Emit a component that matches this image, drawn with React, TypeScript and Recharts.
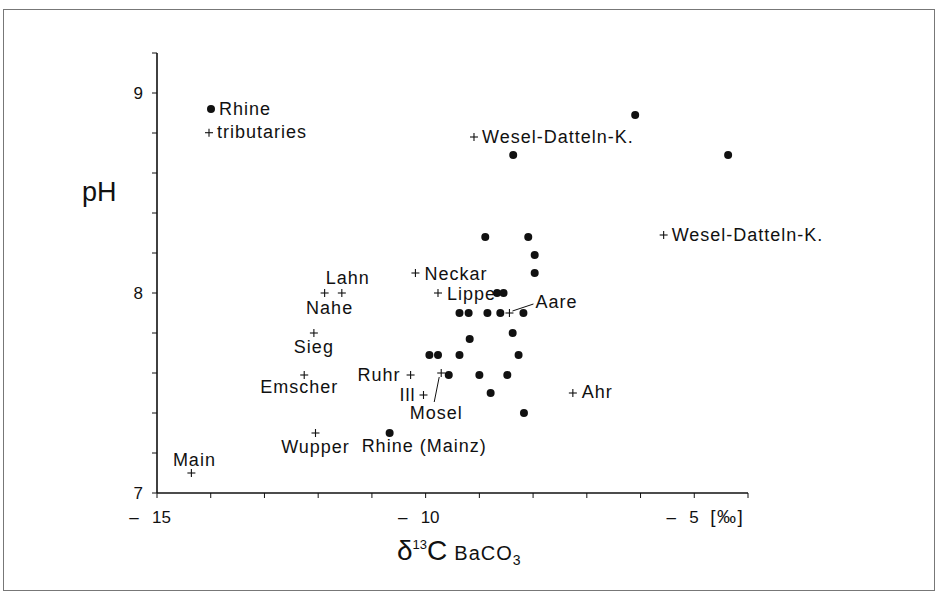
import React from 'react';
import { ScatterChart, Scatter, XAxis, YAxis, Legend } from 'recharts';

// Rhine samples (filled dots)
const rhineD13C = [
  -6.1, -8.37, -4.37, -8.89, -8.09, -7.97, -7.97, -8.67, -8.55,
  -9.37, -9.2, -8.85, -8.61, -8.18, -9.18, -8.38,
  -9.93, -9.77, -9.37, -8.27, -9.57, -9.0, -8.48, -8.79, -8.17, -10.67,
];
const rhinePH = [
  8.89, 8.69, 8.69, 8.28, 8.28, 8.19, 8.1, 8.0, 8.0,
  7.9, 7.9, 7.9, 7.9, 7.9, 7.77, 7.8,
  7.69, 7.69, 7.69, 7.69, 7.59, 7.59, 7.59, 7.5, 7.4, 7.3,
];
const rhineNames = [
  '', '', '', '', '', '', '', '', '',
  '', '', '', '', '', '', '',
  '', '', '', '', '', '', '', '', '', 'Rhine (Mainz)',
];

// tributaries (crosses)
const tributaryNames = [
  'Wesel-Datteln-K.', 'Wesel-Datteln-K.', 'Neckar', 'Lippe', 'Lahn', 'Nahe', 'Sieg',
  'Emscher', 'Ruhr', 'Mosel', 'Ill', 'Aare', 'Ahr', 'Wupper', 'Main',
];
const tributaryD13C = [-9.1, -5.57, -10.19, -9.77, -11.56, -11.88, -12.08, -12.26, -10.28, -9.71, -10.04, -8.44, -7.26, -12.05, -14.36];
const tributaryPH = [8.78, 8.29, 8.1, 8.0, 8.0, 8.0, 7.8, 7.59, 7.59, 7.6, 7.49, 7.9, 7.5, 7.3, 7.1];

const xTicks = [-15, -14, -13, -12, -11, -10, -9, -8, -7, -6, -5, -4];
const xLabeled = [-15, -10, -5];
const yTicks = [7, 7.2, 7.4, 7.6, 7.8, 8, 8.2, 8.4, 8.6, 8.8, 9, 9.2];
const yLabeled = [7, 8, 9];

const rhineData = rhineD13C.map((x, i) => ({ x, y: rhinePH[i], name: rhineNames[i], i }));
const tributaryData = tributaryD13C.map((x, i) => ({ x, y: tributaryPH[i], name: tributaryNames[i], i }));

const FONT = '"Liberation Sans", Arial, Helvetica, sans-serif';
const INK = '#111';

// where each tributary label sits relative to its cross
const tribPlace: { dx: number; dy: number; anchor: string; lead?: number[] }[] = [
  { dx: 8, dy: 6, anchor: 'start' },
  { dx: 8, dy: 6, anchor: 'start' },
  { dx: 9, dy: 7, anchor: 'start' },
  { dx: 9, dy: 7, anchor: 'start' },
  { dx: 6, dy: -9, anchor: 'middle' },
  { dx: 5, dy: 21, anchor: 'middle' },
  { dx: 0, dy: 20, anchor: 'middle' },
  { dx: -5, dy: 18, anchor: 'middle' },
  { dx: -10, dy: 6, anchor: 'end' },
  { dx: -5, dy: 46, anchor: 'middle', lead: [-2, 4, -7, 29] },
  { dx: -8, dy: 6, anchor: 'end' },
  { dx: 26, dy: -5, anchor: 'start', lead: [3, -2, 24, -9] },
  { dx: 9, dy: 5, anchor: 'start' },
  { dx: 0, dy: 20, anchor: 'middle' },
  { dx: 3, dy: -7, anchor: 'middle' },
];

const labelStyle = { fontFamily: FONT, fontSize: 18, fill: INK, letterSpacing: 1 };

const Cross = (props: any) => {
  const { cx, cy, payload } = props;
  const p = tribPlace[payload.i];
  return (
    <g>
      <line x1={cx - 4} x2={cx + 4} y1={cy} y2={cy} stroke={INK} strokeWidth={1.1} />
      <line x1={cx} x2={cx} y1={cy - 4} y2={cy + 4} stroke={INK} strokeWidth={1.1} />
      {p.lead && (
        <line x1={cx + p.lead[0]} y1={cy + p.lead[1]} x2={cx + p.lead[2]} y2={cy + p.lead[3]} stroke={INK} strokeWidth={1} />
      )}
      <text x={cx + p.dx} y={cy + p.dy} textAnchor={p.anchor as any} style={labelStyle}>
        {payload.name}
      </text>
    </g>
  );
};

const Dot = (props: any) => {
  const { cx, cy, payload } = props;
  return (
    <g>
      <circle cx={cx} cy={cy} r={4} fill={INK} />
      {payload.name && (
        <text x={cx - 28} y={cy + 19} style={labelStyle}>
          {payload.name}
        </text>
      )}
    </g>
  );
};

const XTick = (props: any) => {
  const { x, y, payload } = props;
  const v = payload.value;
  if (!xLabeled.includes(v)) return null;
  const base = y + 23;
  return (
    <g style={{ fontFamily: FONT, fontSize: 17, fill: INK }}>
      <text x={x - 23} y={base} textAnchor="middle">–</text>
      <text x={x - 5} y={base}>{Math.abs(v)}</text>
      {v === -5 && <text x={x + 16} y={base} fontSize={19} letterSpacing={1.5}>[‰]</text>}
    </g>
  );
};

const YTick = (props: any) => {
  const { x, y, payload } = props;
  if (!yLabeled.includes(payload.value)) return null;
  return (
    <text x={x - 7} y={y + 6} textAnchor="end" style={{ fontFamily: FONT, fontSize: 17, fill: INK }}>
      {payload.value}
    </text>
  );
};

const XTitle = (props: any) => {
  const { viewBox } = props;
  const x0 = viewBox.x + 240;
  const base = 560;
  return (
    <text x={x0} y={base} style={{ fontFamily: FONT, fill: INK }}>
      <tspan fontSize={28}>δ</tspan>
      <tspan fontSize={13} dy={-11}>13</tspan>
      <tspan fontSize={28} dy={11}>C</tspan>
      <tspan fontSize={20} dx={7} letterSpacing={1}>BaCO</tspan>
      <tspan fontSize={14} dy={5}>3</tspan>
    </text>
  );
};

const YTitle = () => (
  <text x={82} y={201} style={{ fontFamily: FONT, fontSize: 27, fill: INK }}>
    pH
  </text>
);

const LegendBox = () => (
  <svg width={140} height={50} style={{ overflow: 'visible' }}>
    <circle cx={11} cy={14} r={4} fill={INK} />
    <text x={19} y={20} style={labelStyle}>Rhine</text>
    <line x1={5} x2={13} y1={37.7} y2={37.7} stroke={INK} strokeWidth={1.1} />
    <line x1={9} x2={9} y1={33.7} y2={41.7} stroke={INK} strokeWidth={1.1} />
    <text x={17} y={43} style={labelStyle}>tributaries</text>
  </svg>
);

export default function App() {
  return (
    <div style={{ position: 'absolute', left: 0, top: 0, width: 938, height: 596, background: '#fff' }}>
      <div
        style={{
          position: 'absolute', left: 3, top: 9, width: 930, height: 580,
          border: '1px solid #777', pointerEvents: 'none',
        }}
      />
      <ScatterChart width={938} height={596} margin={{ top: 53, right: 190, bottom: 63, left: 97 }}>
        <XAxis
          type="number"
          dataKey="x"
          domain={[-15, -4]}
          ticks={xTicks}
          height={40}
          tickSize={5}
          axisLine={{ stroke: INK, strokeWidth: 1.6 }}
          tickLine={{ stroke: INK, strokeWidth: 1 }}
          tick={<XTick />}
          label={<XTitle />}
        />
        <YAxis
          type="number"
          dataKey="y"
          domain={[7, 9.2]}
          ticks={yTicks}
          width={60}
          tickSize={5}
          axisLine={{ stroke: INK, strokeWidth: 1.6 }}
          tickLine={{ stroke: INK, strokeWidth: 1 }}
          tick={<YTick />}
          label={<YTitle />}
        />
        <Legend
          layout="vertical"
          align="center"
          verticalAlign="middle"
          wrapperStyle={{ left: 200, top: 95, width: 140, height: 50 }}
          content={<LegendBox />}
        />
        <Scatter name="Rhine" data={rhineData} shape={<Dot />} isAnimationActive={false} />
        <Scatter name="tributaries" data={tributaryData} shape={<Cross />} isAnimationActive={false} />
      </ScatterChart>
    </div>
  );
}
